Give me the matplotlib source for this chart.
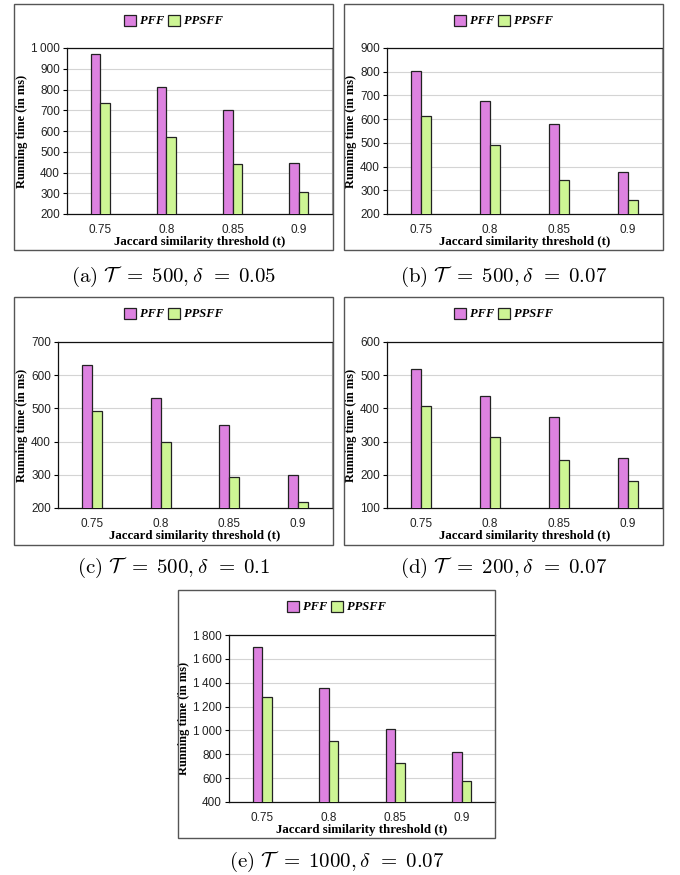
import numpy as np
import matplotlib
matplotlib.use('Agg')
import matplotlib.pyplot as plt
from matplotlib.patches import Rectangle
from matplotlib.ticker import FuncFormatter, MultipleLocator

thresholds = ['0.75', '0.8', '0.85', '0.9']

pff_a = [970, 812, 700, 448]
ppsff_a = [735, 571, 440, 308]
pff_b = [803, 677, 581, 377]
ppsff_b = [615, 493, 342, 257]
pff_c = [632, 530, 451, 300]
ppsff_c = [492, 398, 292, 218]
pff_d = [518, 436, 373, 250]
ppsff_d = [406, 313, 244, 181]
pff_e = [1700, 1352, 1016, 815]
ppsff_e = [1277, 915, 723, 579]

# '=' in the cm mathtext font carries extra room on its right side, so pad its left a bit more
captions = [r'$\mathrm{(a)}\ \mathcal{T}\;\,{=}\;500, \delta\;\,{=}\;0.05$',
            r'$\mathrm{(b)}\ \mathcal{T}\;\,{=}\;500, \delta\;\,{=}\;0.07$',
            r'$\mathrm{(c)}\ \mathcal{T}\;\,{=}\;500, \delta\;\,{=}\;0.1$',
            r'$\mathrm{(d)}\ \mathcal{T}\;\,{=}\;200, \delta\;\,{=}\;0.07$',
            r'$\mathrm{(e)}\ \mathcal{T}\;\,{=}\;1000, \delta\;\,{=}\;0.07$']

W, H = 680, 875
plt.rcParams['mathtext.fontset'] = 'cm'

# pixel layout: axes (left, right, top, bottom), box (left, right, top, bottom), caption y, ylim, step
panels = [
    dict(pff=pff_a, ppsff=ppsff_a, ax=(67, 332, 48, 214), box=(14, 333, 4, 250), cap=277, ylim=(200, 1000), step=100),
    dict(pff=pff_b, ppsff=ppsff_b, ax=(387, 662, 48, 214), box=(344, 663, 4, 250), cap=277, ylim=(200, 900), step=100),
    dict(pff=pff_c, ppsff=ppsff_c, ax=(58, 332, 342, 508), box=(14, 333, 297, 545), cap=568, ylim=(200, 700), step=100),
    dict(pff=pff_d, ppsff=ppsff_d, ax=(387, 662, 342, 508), box=(344, 663, 297, 545), cap=568, ylim=(100, 600), step=100),
    dict(pff=pff_e, ppsff=ppsff_e, ax=(229, 495, 635, 802), box=(178, 495, 590, 838), cap=862, ylim=(400, 1800), step=200),
]

PFF_COL = '#dd82e0'
PPSFF_COL = '#cdf594'

fig = plt.figure(figsize=(W / 100, H / 100), dpi=100)

def thousands(v, pos):
    v = int(round(v))
    if v >= 1000:
        return '%d\u2009%03d' % (v // 1000, v % 1000)
    return str(v)

x = np.arange(len(thresholds))
w = 0.145

for p, cap in zip(panels, captions):
    l, r, t, b = p['ax']
    ax = fig.add_axes([l / W, 1 - b / H, (r - l) / W, (b - t) / H])
    b1 = ax.bar(x - w / 2, p['pff'], w, color=PFF_COL, edgecolor='#222222', linewidth=0.9,
                label='PFF', zorder=3)
    b2 = ax.bar(x + w / 2, p['ppsff'], w, color=PPSFF_COL, edgecolor='#222222', linewidth=0.9,
                label='PPSFF', zorder=3)
    ax.set_xlim(-0.5, len(x) - 0.5)
    ax.set_ylim(*p['ylim'])
    ax.yaxis.set_major_locator(MultipleLocator(p['step']))
    ax.yaxis.set_major_formatter(FuncFormatter(thousands))
    ax.grid(axis='y', color='#d4d4d4', linewidth=0.8, zorder=0)
    ax.set_xticks(x)
    ax.set_xticklabels(thresholds)
    ax.tick_params(axis='x', length=0, pad=7)
    ax.tick_params(axis='y', length=3, width=0.8, direction='out', pad=2)
    for lab in ax.get_xticklabels() + ax.get_yticklabels():
        lab.set_fontfamily('Liberation Sans')
        lab.set_fontsize(8.5)
        lab.set_color('#222222')
    for s in ['left', 'bottom', 'top']:
        ax.spines[s].set_color('#111111')
        ax.spines[s].set_linewidth(0.9)
    ax.spines['right'].set_color('#999999')
    ax.spines['right'].set_linewidth(0.8)
    ax.set_ylabel('Running time (in ms)', fontfamily='Liberation Serif', fontweight='bold',
                  fontsize=9, labelpad=2)
    ax.set_xlabel('Jaccard similarity threshold (t)', fontfamily='Liberation Serif',
                  fontweight='bold', fontsize=9.3, labelpad=0)

    bl, br, bt, bb = p['box']
    fig.patches.append(Rectangle((bl / W, 1 - bb / H), (br - bl) / W, (bb - bt) / H,
                                 transform=fig.transFigure, fill=False,
                                 edgecolor='#555555', linewidth=1.0))
    cx = (bl + br) / 2 / W
    ax.legend(handles=[b1, b2], loc='center', bbox_to_anchor=(cx, 1 - (bt + 17) / H),
              bbox_transform=fig.transFigure, ncol=2, frameon=False,
              prop=dict(family='Liberation Serif', weight='bold', style='italic', size=9),
              handlelength=0.95, handleheight=1.0, handletextpad=0.3, columnspacing=0.3,
              borderpad=0)
    fig.text(cx, 1 - p['cap'] / H, cap, ha='center', va='center', fontsize=15)

fig.savefig('out.png', dpi=100)
